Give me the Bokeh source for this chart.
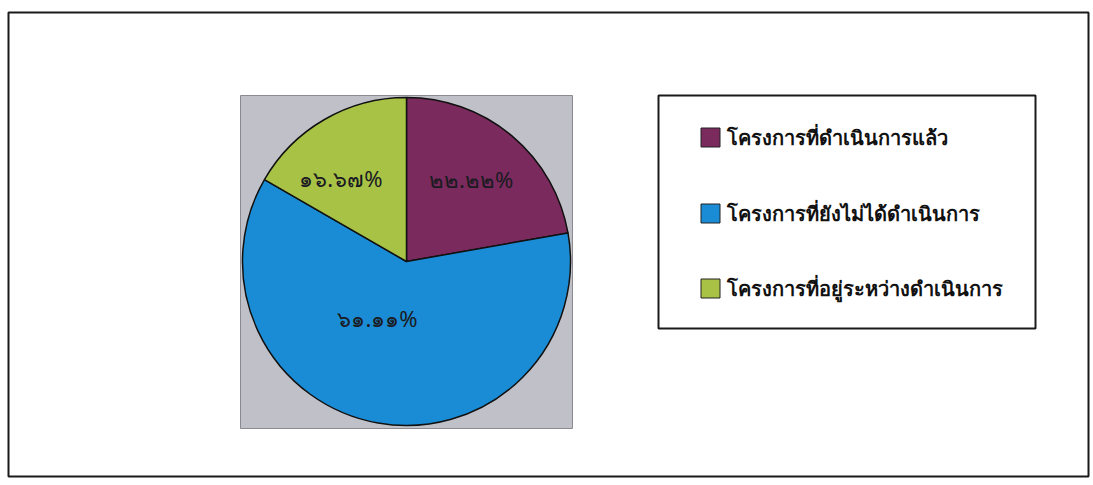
import math
from bokeh.plotting import figure
from bokeh.models import Range1d, ColumnDataSource
from bokeh.core.properties import value
from bokeh.embed import file_html
from bokeh.resources import INLINE

# ---- data ----
categories = ["โครงการที่ดำเนินการแล้ว", "โครงการที่ยังไม่ได้ดำเนินการ", "โครงการที่อยู่ระหว่างดำเนินการ"]
percent = [22.22, 61.11, 16.67]
pct_labels = ["๒๒.๒๒%", "๖๑.๑๑%", "๑๖.๖๗%"]
colors = ["#7a2a5c", "#1a8cd6", "#a8c246"]

# ---- layout (page pixel coordinates, y measured downward) ----
FL, FR, FT, FB = 8, 1088, 12, 476
W, H = FR + 2, FB + 2
cx, cy, R = 406, 261, 164
label_rfrac = [0.64, 0.39, 0.65]
label_shift = [-2, 17, -8]          # degrees
leg_box = (658, 1035, 95, 328)
leg_sq_x, leg_txt_x = 710, 726
leg_y = [137, 213, 288]

p = figure(width=W, height=H, output_backend="svg", toolbar_location=None,
           x_range=Range1d(FL, FR), y_range=Range1d(-FB, -FT),
           min_border_left=FL, min_border_right=2, min_border_top=FT, min_border_bottom=2)
p.axis.visible = False
p.grid.visible = False
p.outline_line_color = "#1a1a1a"
p.outline_line_width = 2
p.background_fill_color = "white"
p.border_fill_color = "white"

# gray plot area
p.quad(left=[cx - R - 2], right=[cx + R + 2], top=[-(cy - R - 2)], bottom=[-(cy + R + 3)],
       fill_color="#c0c0c8", line_color="#8a8a90", line_width=1)

# pie wedges
total = sum(percent)
starts, ends, mids = [], [], []
acc = 0.0
for v in percent:
    a0 = math.pi / 2 - 2 * math.pi * acc / total
    acc += v
    a1 = math.pi / 2 - 2 * math.pi * acc / total
    starts.append(a0); ends.append(a1); mids.append((a0 + a1) / 2)

src = ColumnDataSource(dict(start=starts, end=ends, color=colors, cat=categories))
p.wedge(x=cx, y=-cy, radius=R, start_angle="start", end_angle="end", direction="clock",
        fill_color="color", line_color="#111111", line_width=1.5, source=src)

# slice labels
lx, ly = [], []
for m, f, s in zip(mids, label_rfrac, label_shift):
    a = m - math.radians(s)
    lx.append(cx + R * f * math.cos(a))
    ly.append(-cy + R * f * math.sin(a))
p.text(x=lx, y=ly, text=pct_labels, text_align="center", text_baseline="middle",
       text_font=value("Noto Sans"), text_font_size="22px", text_color="#1a1a22")

# legend box
l, r, t, b = leg_box
p.quad(left=[l], right=[r], top=[-t], bottom=[-b], fill_color="white",
       line_color="#1a1a1a", line_width=2)
p.rect(x=[leg_sq_x] * 3, y=[-v for v in leg_y], width=19, height=19,
       fill_color=colors, line_color="#222222", line_width=1)
p.text(x=[leg_txt_x] * 3, y=[-v for v in leg_y], text=categories, text_align="left",
       text_baseline="middle", text_font=value("Noto Sans"), text_font_size="20px",
       text_font_style="bold", text_color="#111111")

open("out.html", "w").write(file_html(p, INLINE))
